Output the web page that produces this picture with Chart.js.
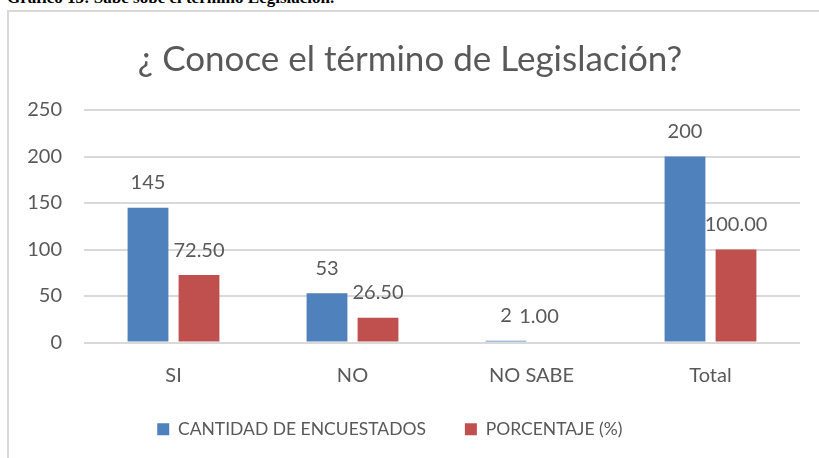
<!DOCTYPE html>
<html>
<head>
<meta charset="utf-8">
<script src="https://cdn.jsdelivr.net/npm/chart.js@4/dist/chart.umd.min.js"></script>
<style>
  html, body { margin: 0; padding: 0; background: #fff; }
  body { width: 819px; height: 458px; position: relative; overflow: hidden; }
  #caption {
    position: absolute; left: 7px; top: -12px;
    font: bold 17px "Liberation Serif", "DejaVu Serif", serif;
    color: #000; white-space: nowrap;
  }
  #frame {
    position: absolute; left: 7px; top: 10px; width: 830px; height: 460px;
    border-left: 2px solid #d9d9d9; border-top: 2px solid #d9d9d9;
  }
  #wrap { position: absolute; left: 0; top: 0; width: 819px; height: 458px; }
</style>
</head>
<body>
<div id="caption">Gráfico 13: Sabe sobe el término Legislación.</div>
<div id="frame"></div>
<div id="wrap"><canvas id="chart"></canvas></div>
<script>
// data
const categories = ['SI', 'NO', 'NO SABE', 'Total'];
const encuestados = [145, 53, 2, 200];
const porcentaje = [72.5, 26.5, 1, 100];
const yTicks = [0, 50, 100, 150, 200, 250];

const textColor = '#595959';
const fontFamily = 'Lato, "Open Sans", sans-serif';

// value labels above each bar (Excel style)
const barLabels = {
  id: 'barLabels',
  afterDatasetsDraw(chart, args, opts) {
    const ctx = chart.ctx;
    ctx.save();
    ctx.font = '20px ' + fontFamily;
    ctx.fillStyle = textColor;
    ctx.textAlign = 'center';
    ctx.textBaseline = 'middle';
    chart.data.datasets.forEach((ds, di) => {
      const meta = chart.getDatasetMeta(di);
      meta.data.forEach((bar, i) => {
        const v = ds.data[i];
        const txt = di === 0 ? String(v) : v.toFixed(2);
        const nudge = (opts.nudge[di] && opts.nudge[di][i]) || 0;
        ctx.fillText(txt, bar.x + nudge, bar.y - 25);
      });
    });
    ctx.restore();
  }
};

new Chart(document.getElementById('chart'), {
  type: 'bar',
  data: {
    labels: categories,
    datasets: [{
      label: 'CANTIDAD DE ENCUESTADOS',
      data: encuestados,
      backgroundColor: '#4f81bd'
    }, {
      label: 'PORCENTAJE (%)',
      data: porcentaje,
      backgroundColor: '#c0504d'
    }]
  },
  options: {
    responsive: true,
    maintainAspectRatio: false,
    animation: false,
    categoryPercentage: 0.57,
    barPercentage: 0.8,
    layout: { padding: { left: 20, right: 19, top: 0, bottom: 10 } },
    plugins: {
      title: {
        display: true,
        text: '¿ Conoce el término de Legislación?',
        color: textColor,
        font: { family: fontFamily, size: 35, weight: 'normal' },
        padding: { top: 39, bottom: 29 }
      },
      legend: {
        position: 'bottom',
        labels: {
          color: textColor,
          font: { family: fontFamily, size: 17.5 },
          boxWidth: 12,
          boxHeight: 12,
          padding: 12,
          // wider gap between entries and legend sitting a bit left, like the Excel one
          generateLabels(chart) {
            const items = Chart.defaults.plugins.legend.labels.generateLabels(chart);
            items[0].text += '      ';
            items[1].text += '         ';
            return items;
          }
        }
      },
      tooltip: { enabled: false },
      barLabels: { nudge: { 1: { 2: -18 } } }
    },
    scales: {
      x: {
        grid: { display: false, drawTicks: false },
        border: { display: false },
        ticks: { color: textColor, font: { family: fontFamily, size: 20 }, padding: 21 }
      },
      y: {
        min: 0,
        max: 250,
        afterBuildTicks(scale) {
          scale.ticks = yTicks.map(v => ({ value: v }));
        },
        afterFit(scale) { scale.width = 64; },
        grid: { color: '#d9d9d9', lineWidth: 2, drawTicks: false },
        border: { display: false },
        ticks: { color: textColor, font: { family: fontFamily, size: 20 }, padding: 22 }
      }
    }
  },
  plugins: [barLabels]
});
</script>
</body>
</html>
